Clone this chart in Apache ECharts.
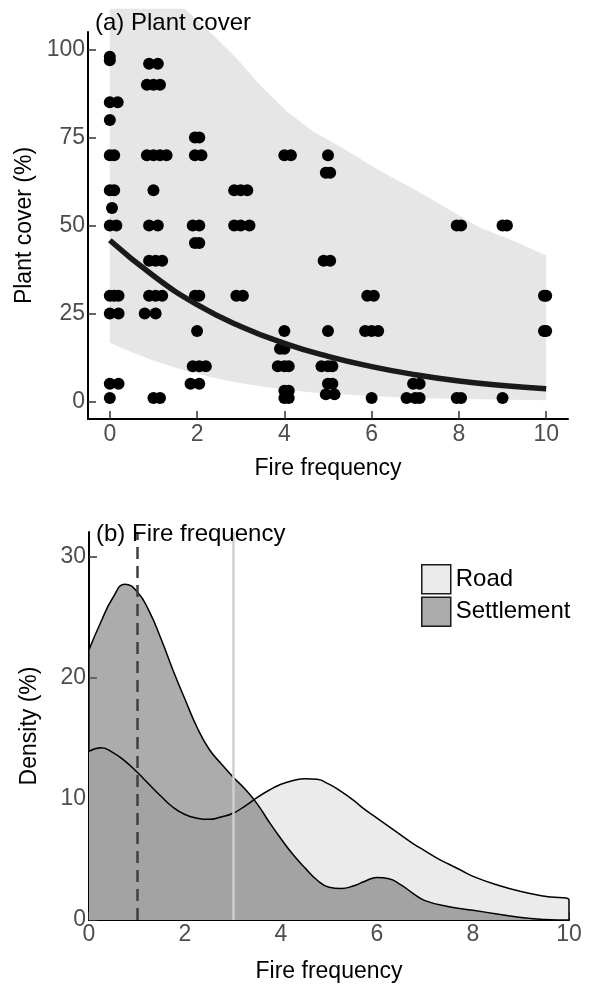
<!DOCTYPE html>
<html>
<head>
<meta charset="utf-8">
<script src="https://cdn.jsdelivr.net/npm/echarts@6/dist/echarts.min.js"></script>
<style>
  html, body { margin: 0; padding: 0; background: #fff; }
  #chart { width: 592px; height: 984px; }
</style>
</head>
<body>
<div id="chart"></div>
<script>
// (a) plant cover against fire frequency, jittered points
var coverX = [0, 0, 0.9, 1.1, 0.85, 1.0, 1.15, 0, 0.18, 0, 1.95, 2.05,
    0, 0.1, 0.85, 1.0, 1.15, 1.3, 1.95, 2.1, 4.0, 4.15, 5.0, 4.95, 5.05,
    0, 0.1, 1.0, 2.85, 3.0, 3.15, 0.05,
    0, 0.15, 0.9, 1.1, 1.9, 2.05, 2.85, 3.0, 3.2, 7.95, 8.05, 9.0, 9.1,
    1.95, 2.05, 0.9, 1.05, 1.2, 4.9, 5.05,
    0, 0.1, 0.2, 0.9, 1.05, 1.2, 1.95, 2.05, 2.9, 3.05, 5.9, 6.05, 9.95, 10,
    0, 0.2, 0.8, 1.05,
    2.0, 4.0, 5.0, 5.85, 6.0, 6.15, 9.95, 10,
    3.9, 4.0,
    1.9, 2.05, 2.2, 3.85, 4.0, 4.1, 4.85, 5.0, 5.1,
    0, 0.2, 1.85, 2.05, 5.0, 5.1, 6.95, 7.1,
    4.0, 4.1, 4.95, 5.15,
    0, 1.0, 1.15, 4.0, 4.1, 6.0, 6.8, 7.0, 7.1, 7.95, 8.05, 9.0];
var coverY = [98, 97, 96, 96, 90, 90, 90, 85, 85, 80, 75, 75,
    70, 70, 70, 70, 70, 70, 70, 70, 70, 70, 70, 65, 65,
    60, 60, 60, 60, 60, 60, 55,
    50, 50, 50, 50, 50, 50, 50, 50, 50, 50, 50, 50, 50,
    45, 45, 40, 40, 40, 40, 40,
    30, 30, 30, 30, 30, 30, 30, 30, 30, 30, 30, 30, 30, 30,
    25, 25, 25, 25,
    20, 20, 20, 20, 20, 20, 20, 20,
    15, 15,
    10, 10, 10, 10, 10, 10, 10, 10, 10,
    5, 5, 5, 5, 5, 5, 5, 5,
    3, 3, 2, 2,
    1, 1, 1, 1, 1, 1, 1, 1, 1, 1, 1, 1];

// fitted curve and its band
var fitX = [0, 1, 2, 3, 4, 5, 6, 7, 8, 9, 10];
var fitY = [45.8, 35.7, 27.5, 21.3, 16.5, 12.8, 9.9, 7.6, 5.8, 4.5, 3.6];
var bandX = [0, 0.5, 1, 1.72, 2.36, 2.91, 3.43, 4.05, 4.65, 5.33, 6.11, 7.32, 8.47, 9.22, 10];
var bandLow = [16.7, 14.0, 11.6, 8.7, 6.8, 5.4, 4.3, 3.3, 2.5, 2.0, 1.4, 0.9, 0.6, 0.45, 0.3];
var bandHigh = [111.6, 111.6, 111.6, 111.6, 104.2, 97.5, 90.1, 82.5, 76.8, 72.0, 66.1, 57.9, 49.4, 45.8, 41.5];

// (b) density of fire frequency
var roadX = [0, 0.25, 0.5, 0.75, 1, 1.25, 1.5, 1.75, 2, 2.25, 2.5, 2.75, 3, 3.25, 3.5, 3.75,
    4, 4.25, 4.5, 4.75, 5, 5.25, 5.5, 5.75, 6, 6.25, 6.5, 6.75, 7, 7.25, 7.5, 7.75, 8, 8.5, 9, 9.5, 10, 10];
var roadY = [13.9, 14.2, 13.8, 13.1, 12.2, 11.2, 10.2, 9.3, 8.7, 8.4, 8.3, 8.5, 8.8, 9.4, 10.1, 10.7,
    11.2, 11.5, 11.65, 11.6, 11.2, 10.6, 9.9, 9.1, 8.4, 7.7, 7.0, 6.3, 5.7, 5.1, 4.6, 4.1, 3.6, 2.9, 2.35, 1.95, 1.65, 0];
var settleX = [0, 0.25, 0.5, 0.75, 1, 1.25, 1.5, 1.75, 2, 2.25, 2.5, 2.75, 3, 3.25, 3.5, 3.75,
    4, 4.25, 4.5, 4.75, 5, 5.25, 5.5, 5.75, 6, 6.25, 6.5, 6.75, 7, 7.5, 8, 8.5, 9, 9.5, 10];
var settleY = [22.3, 24.6, 26.6, 27.7, 27.1, 25.5, 23.2, 20.6, 18.2, 15.9, 14.1, 12.9, 11.8, 10.8, 9.6, 8.1,
    6.7, 5.4, 4.3, 3.3, 2.7, 2.6, 2.8, 3.2, 3.5, 3.4, 2.9, 2.2, 1.6, 1.1, 0.8, 0.5, 0.2, 0.05, 0];
var settleMedian = 1;
var roadMedian = 3;

var xTicks = [0, 2, 4, 6, 8, 10];
var coverTicks = [0, 25, 50, 75, 100];
var densTicks = [0, 10, 20, 30];

function zip(xs, ys) {
    var out = [];
    for (var i = 0; i < xs.length; i++) out.push([xs[i], ys[i]]);
    return out;
}

var font = 'Liberation Sans';
var axisLine = {show: true, onZero: false, lineStyle: {color: '#000', width: 2}};
var axisTick = {show: true, inside: true, length: 8, lineStyle: {color: '#333', width: 1.5}};
var labelStyle = {fontFamily: font, fontSize: 23, color: '#4d4d4d'};
var nameStyle = {fontFamily: font, fontSize: 23, color: '#000'};

// confidence band as one polygon: upper edge left to right, lower edge back
function renderBand(params, api) {
    var pts = [];
    for (var i = 0; i < bandX.length; i++) pts.push(api.coord([bandX[i], bandHigh[i]]));
    for (var j = bandX.length - 1; j >= 0; j--) pts.push(api.coord([bandX[j], bandLow[j]]));
    return {
        type: 'polygon',
        shape: {points: pts},
        style: {fill: '#e6e6e6'}
    };
}

var chart = echarts.init(document.getElementById('chart'), null, {renderer: 'canvas'});
var option = {
    backgroundColor: '#fff',
    animation: false,
    title: [
        {text: '(a) Plant cover', left: 95, top: 11, padding: 0,
         textStyle: {fontFamily: font, fontSize: 24, fontWeight: 'normal', color: '#000'}},
        {text: '(b) Fire frequency', left: 96, top: 522, padding: 0,
         textStyle: {fontFamily: font, fontSize: 24, fontWeight: 'normal', color: '#000'}}
    ],
    legend: {
        orient: 'vertical',
        left: 421, top: 564, padding: 0,
        itemWidth: 29, itemHeight: 29, itemGap: 2,
        icon: 'rect',
        textStyle: {fontFamily: font, fontSize: 24, color: '#000'},
        data: [
            {name: 'Road', itemStyle: {color: '#ebebeb', borderColor: '#1a1a1a', borderWidth: 1.5}},
            {name: 'Settlement', itemStyle: {color: '#ababab', borderColor: '#1a1a1a', borderWidth: 1.5}}
        ]
    },
    grid: [
        {left: 88, top: 32, width: 480, height: 387, outerBoundsMode: 'none'},
        {left: 89, top: 532, width: 480, height: 388, outerBoundsMode: 'none'}
    ],
    xAxis: [
        {type: 'value', gridIndex: 0, min: -0.5, max: 10.5,
         name: 'Fire frequency', nameLocation: 'middle', nameGap: 38, nameTextStyle: nameStyle,
         axisLine: axisLine, axisTick: Object.assign({customValues: xTicks}, axisTick),
         axisLabel: Object.assign({customValues: xTicks, margin: 4}, labelStyle),
         splitLine: {show: false}},
        {type: 'value', gridIndex: 1, min: 0, max: 10,
         name: 'Fire frequency', nameLocation: 'middle', nameGap: 40, nameTextStyle: nameStyle,
         axisLine: axisLine, axisTick: Object.assign({customValues: xTicks}, axisTick),
         axisLabel: Object.assign({customValues: xTicks, margin: 3}, labelStyle),
         splitLine: {show: false}}
    ],
    yAxis: [
        {type: 'value', gridIndex: 0, min: -5, max: 105,
         name: 'Plant cover (%)', nameLocation: 'middle', nameGap: 49, nameTextStyle: nameStyle,
         axisLine: axisLine, axisTick: Object.assign({customValues: coverTicks}, axisTick),
         axisLabel: Object.assign({customValues: coverTicks, margin: 3}, labelStyle),
         splitLine: {show: false}},
        {type: 'value', gridIndex: 1, min: 0, max: 32,
         name: 'Density (%)', nameLocation: 'middle', nameGap: 48, nameTextStyle: nameStyle,
         axisLine: axisLine, axisTick: Object.assign({customValues: densTicks}, axisTick),
         axisLabel: Object.assign({customValues: densTicks, margin: 3}, labelStyle),
         splitLine: {show: false}}
    ],
    series: [
        {type: 'custom', xAxisIndex: 0, yAxisIndex: 0, clip: false, silent: true, z: 1,
         renderItem: renderBand, data: [0]},
        {type: 'scatter', xAxisIndex: 0, yAxisIndex: 0, z: 3,
         data: zip(coverX, coverY), symbolSize: 12,
         itemStyle: {color: '#000', opacity: 1}},
        {type: 'line', xAxisIndex: 0, yAxisIndex: 0, z: 4,
         data: zip(fitX, fitY), showSymbol: false, smooth: true,
         lineStyle: {color: '#1a1a1a', width: 5.5}},
        {name: 'Road', type: 'line', xAxisIndex: 1, yAxisIndex: 1,
         data: zip(roadX, roadY), showSymbol: false, smooth: 0.5,
         itemStyle: {color: '#ebebeb'},
         lineStyle: {color: '#000', width: 1.5},
         areaStyle: {color: '#ebebeb', opacity: 1}},
        {name: 'Settlement', type: 'line', xAxisIndex: 1, yAxisIndex: 1,
         data: zip(settleX, settleY), showSymbol: false, smooth: 0.5,
         itemStyle: {color: '#ababab'},
         lineStyle: {color: '#000', width: 1.5},
         areaStyle: {color: 'rgba(104,104,104,0.55)', opacity: 1},
         markLine: {
             silent: true, symbol: 'none', label: {show: false},
             data: [
                 {xAxis: settleMedian, lineStyle: {color: '#404040', width: 2.5, type: [12, 7]}},
                 {xAxis: roadMedian, lineStyle: {color: '#cfcfcf', width: 2.5, type: 'solid'}}
             ]
         }}
    ]
};
chart.setOption(option);
</script>
</body>
</html>
